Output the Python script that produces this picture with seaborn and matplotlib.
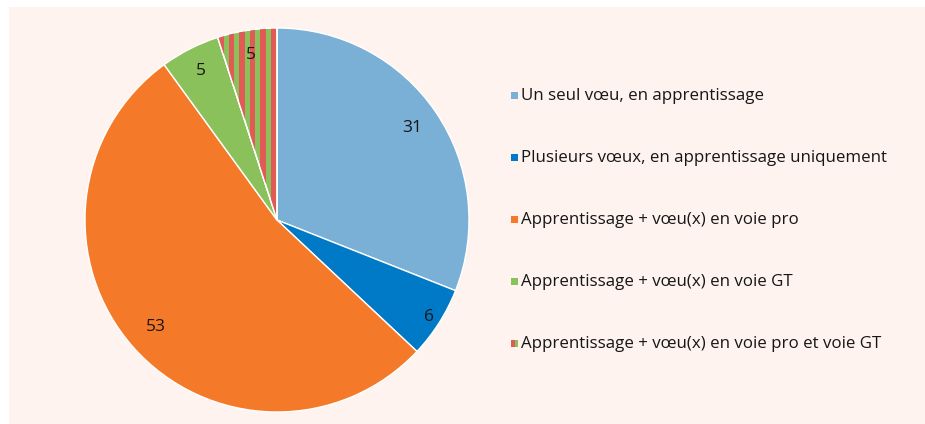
import numpy as np
import matplotlib
matplotlib.use('Agg')
import matplotlib.pyplot as plt
from matplotlib.patches import Rectangle
import seaborn as sns

labels = ['Un seul vœu, en apprentissage',
          'Plusieurs vœux, en apprentissage uniquement',
          'Apprentissage + vœu(x) en voie pro',
          'Apprentissage + vœu(x) en voie GT',
          'Apprentissage + vœu(x) en voie pro et voie GT']
values = [31, 6, 53, 5, 5]
colors = ['#7aafd6', '#0079c6', '#f47a29', '#8ac15b', '#e15a55']

sns.set_theme(style='white')
plt.rcParams['font.family'] = ['Open Sans', 'DejaVu Sans']

bg = '#fef3ee'
fig = plt.figure(figsize=(9.25, 4.24), dpi=100)
fig.patch.set_facecolor('white')
fig.patches.append(Rectangle((9 / 925, 0), 1, 417 / 424, transform=fig.transFigure,
                             facecolor=bg, edgecolor='none', zorder=-10))

cx, cy, r = 277, 220, 192
ax = fig.add_axes([(cx - r) / 925, (424 - cy - r) / 424, 2 * r / 925, 2 * r / 424])
ax.set_facecolor('none')

wedges, _ = ax.pie(values, colors=colors[:4] + ['#8ac15b'], startangle=90, counterclock=False,
                   radius=1, wedgeprops=dict(edgecolor='white', linewidth=1))
ax.set_xlim(-1, 1)
ax.set_ylim(-1, 1)
ax.set_aspect('equal')

# vertical red stripes on the last wedge
striped = wedges[-1]
period = 10.5 / r
for x0 in np.arange(-0.004 - 5.5 / r, -1, -period):
    s = Rectangle((x0, -1), 5.5 / r, 2, facecolor=colors[4], edgecolor='none', zorder=striped.get_zorder() + 0.1)
    ax.add_patch(s)
    s.set_clip_path(striped)
striped_edge = plt.Polygon(striped.get_path().vertices, closed=True, fill=False, edgecolor='white',
                           linewidth=1, zorder=striped.get_zorder() + 0.2)
ax.add_patch(striped_edge)

# value labels
dist = [0.85, 0.94, 0.84, 0.87, 0.87]
cum = np.cumsum([0] + values)
total = sum(values)
for i, v in enumerate(values):
    ang = np.deg2rad(90 - (cum[i] + v / 2) / total * 360)
    ax.text(dist[i] * np.cos(ang), dist[i] * np.sin(ang), str(v), ha='center', va='center',
            fontsize=12.5, color='#161616', zorder=10)

# legend
ys = [95.5, 157.5, 219.5, 281.5, 343.5]
for i, lab in enumerate(labels):
    yf = 1 - ys[i] / 424
    if i < 4:
        fig.patches.append(Rectangle((511 / 925, yf - 3.5 / 424), 7 / 925, 7 / 424, transform=fig.transFigure,
                                     facecolor=colors[i], edgecolor='none'))
    else:
        fig.patches.append(Rectangle((511 / 925, yf - 3.5 / 424), 4 / 925, 7 / 424, transform=fig.transFigure,
                                     facecolor=colors[4], edgecolor='none'))
        fig.patches.append(Rectangle((515 / 925, yf - 3.5 / 424), 3 / 925, 7 / 424, transform=fig.transFigure,
                                     facecolor=colors[3], edgecolor='none'))
    fig.text(521 / 925, yf, lab, ha='left', va='center', fontsize=12.2, color='#161616')

fig.savefig('out.png', dpi=100, facecolor=fig.get_facecolor())
